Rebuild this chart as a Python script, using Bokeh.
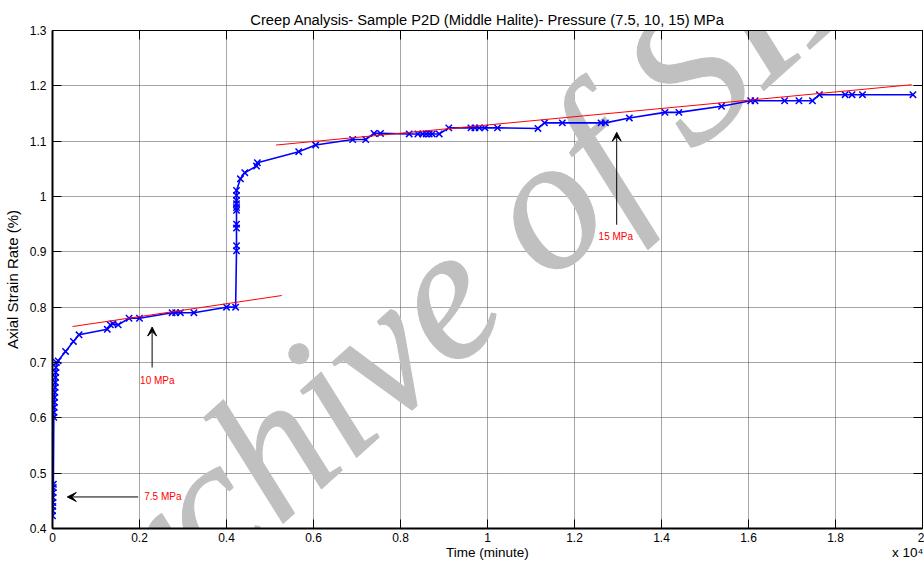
from bokeh.plotting import figure
from bokeh.models import Range1d, LinearAxis, FixedTicker, Arrow, VeeHead, ColumnDataSource, CustomJSTickFormatter
from bokeh.core.properties import value
from bokeh.embed import file_html
from bokeh.resources import INLINE

# ---- data (time in units of 10^4 minutes, axial strain in %) ----
time_e4 = [
    0.000, 0.0003, 0.0006, 0.0009, 0.0012, 0.0015, 0.0018, 0.002,
    0.003, 0.0035, 0.004, 0.0045, 0.005, 0.0055, 0.006, 0.0065, 0.007, 0.0075, 0.008, 0.009,
    0.013, 0.030, 0.048, 0.061, 0.126, 0.133, 0.139, 0.151, 0.176, 0.200,
    0.275, 0.283, 0.294, 0.325, 0.400, 0.421,
    0.423, 0.423, 0.423, 0.423, 0.423, 0.423, 0.423, 0.423, 0.423, 0.423,
    0.432, 0.442, 0.469, 0.471, 0.566, 0.605, 0.690, 0.720, 0.739, 0.754,
    0.820, 0.840, 0.851, 0.859, 0.866, 0.873, 0.889, 0.911, 0.962, 0.971,
    0.981, 0.994, 1.023, 1.116, 1.131, 1.172, 1.261, 1.271, 1.326, 1.408,
    1.440, 1.538, 1.605, 1.615, 1.683, 1.716, 1.747, 1.763, 1.822, 1.838,
    1.862, 1.978,
]
strain = [
    0.423, 0.432, 0.440, 0.447, 0.456, 0.465, 0.474, 0.480,
    0.601, 0.610, 0.619, 0.628, 0.637, 0.646, 0.655, 0.664, 0.673, 0.682, 0.691, 0.700,
    0.703, 0.720, 0.738, 0.750, 0.760, 0.768, 0.770, 0.768, 0.780, 0.780,
    0.790, 0.790, 0.790, 0.790, 0.800, 0.800,
    0.902, 0.911, 0.943, 0.950, 0.975, 0.980, 0.987, 0.993, 1.002, 1.011,
    1.032, 1.043, 1.055, 1.061, 1.081, 1.093, 1.103, 1.103, 1.114, 1.114,
    1.113, 1.113, 1.113, 1.113, 1.113, 1.113, 1.113, 1.124, 1.124, 1.124,
    1.124, 1.124, 1.124, 1.123, 1.133, 1.133, 1.133, 1.133, 1.142, 1.152,
    1.152, 1.163, 1.173, 1.173, 1.173, 1.173, 1.173, 1.184, 1.184, 1.184,
    1.184, 1.184,
]

fit10_x = [0.046, 0.527]
fit10_y = [0.765, 0.821]
fit15_x = [0.514, 1.975]
fit15_y = [1.093, 1.202]

x_ticks = [0, 0.2, 0.4, 0.6, 0.8, 1, 1.2, 1.4, 1.6, 1.8, 2]
x_tick_labels = ["0", "0.2", "0.4", "0.6", "0.8", "1", "1.2", "1.4", "1.6", "1.8", "2"]
y_ticks = [0.4, 0.5, 0.6, 0.7, 0.8, 0.9, 1, 1.1, 1.2, 1.3]
y_tick_labels = ["0.4", "0.5", "0.6", "0.7", "0.8", "0.9", "1", "1.1", "1.2", "1.3"]

# x-axis title row: axis name in the middle, exponent at the right end
x_title_pos = [1.0, 1.966]
x_title_text = ["Time (minute)", "x 10\u2074"]

ann_text = ["7.5 MPa", "10 MPa", "15 MPa"]
ann_text_x = [0.211, 0.241, 1.295]
ann_text_y = [0.457, 0.667, 0.927]
ann_align = ["left", "center", "center"]
arrow_x_start = [0.197, 0.229, 1.297]
arrow_y_start = [0.457, 0.691, 0.949]
arrow_x_end = [0.034, 0.229, 1.297]
arrow_y_end = [0.457, 0.764, 1.116]

watermark_text = ["Archive of SID"]
watermark_x = [0.922]
watermark_y = [0.842]

FONT = "Liberation Sans"

p = figure(width=924, height=565, output_backend="svg", toolbar_location=None,
           x_range=Range1d(0, 2), y_range=Range1d(0.4, 1.3),
           min_border_left=51, min_border_right=2, min_border_top=30, min_border_bottom=37)
p.background_fill_color = "white"
p.border_fill_color = "white"
p.outline_line_color = "black"
p.outline_line_width = 1

p.title.text = "Creep Analysis- Sample P2D (Middle Halite)- Pressure (7.5, 10, 15) MPa"
p.title.align = "center"
p.title.text_font = FONT
p.title.text_font_size = "14.7px"
p.title.text_font_style = "normal"
p.title.text_color = "black"
p.title.standoff = 6

fmt_code = "const i = ticks_v.findIndex(t => Math.abs(t - tick) < 1e-9); return i >= 0 ? labels_v[i] : String(tick);"
for ax, ticks, labels in ((p.xaxis[0], x_ticks, x_tick_labels), (p.yaxis[0], y_ticks, y_tick_labels)):
    ax.ticker = FixedTicker(ticks=ticks)
    ax.formatter = CustomJSTickFormatter(args=dict(ticks_v=ticks, labels_v=labels), code=fmt_code)
    ax.major_tick_in = 9
    ax.major_tick_out = 0
    ax.minor_tick_line_color = None
    ax.axis_line_width = 2
    ax.axis_line_color = "black"
    ax.major_label_text_font = FONT
    ax.major_label_text_font_size = "12px"
    ax.major_label_text_color = "black"
    ax.axis_label_text_font = FONT
    ax.axis_label_text_font_style = "normal"
    ax.axis_label_text_color = "black"

p.yaxis.axis_label = "Axial Strain Rate (%)"
p.yaxis.axis_label_text_font_size = "15px"
p.xaxis.major_label_standoff = 4
p.yaxis.major_label_standoff = 6
p.yaxis.axis_label_standoff = 6

# second row below the x axis carrying the axis name and the x 10^4 exponent
x_title_axis = LinearAxis(ticker=FixedTicker(ticks=x_title_pos),
                          formatter=CustomJSTickFormatter(args=dict(ticks_v=x_title_pos, labels_v=x_title_text),
                                                          code=fmt_code),
                          major_tick_in=0, major_tick_out=0, minor_tick_line_color=None,
                          major_tick_line_color=None, axis_line_color=None,
                          major_label_standoff=0, major_label_text_font=FONT,
                          major_label_text_font_size="13.5px", major_label_text_color="black")
p.add_layout(x_title_axis, "below")

for loc, ticks in (("above", x_ticks), ("right", y_ticks)):
    ax = LinearAxis(ticker=FixedTicker(ticks=ticks), major_label_text_font_size="0px",
                    major_label_standoff=0, major_tick_in=9, major_tick_out=0,
                    minor_tick_line_color=None, axis_line_color="black", axis_line_width=1)
    p.add_layout(ax, loc)

p.xgrid.ticker = FixedTicker(ticks=x_ticks)
p.ygrid.ticker = FixedTicker(ticks=y_ticks)
p.grid.grid_line_color = "#4d4d4d"
p.grid.grid_line_dash = "1 1"
p.grid.grid_line_width = 1

# watermark (drawn first, under the data)
wm = p.text(x=watermark_x, y=watermark_y, text=watermark_text, angle=42, angle_units="deg",
            text_font=value("Liberation Serif"), text_font_size="190px",
            text_font_style="italic", text_color="#c0c0c0",
            text_align="center", text_baseline="middle")
try:
    wm.glyph.text_outline_color = "#c0c0c0"
except Exception:
    pass

src = ColumnDataSource(dict(x=time_e4, y=strain))
p.line("x", "y", source=src, line_color="#0000ff", line_width=1.6)
p.scatter("x", "y", source=src, marker="x", size=9, line_color="#0000ff", line_width=1.5)

p.line(fit10_x, fit10_y, line_color="#ff0000", line_width=1)
p.line(fit15_x, fit15_y, line_color="#ff0000", line_width=1)

ann_src = ColumnDataSource(dict(x=ann_text_x, y=ann_text_y, t=ann_text, a=ann_align))
p.text(x="x", y="y", text="t", source=ann_src, text_font=value(FONT), text_font_size="10px",
       text_color="#ff0000", text_align="a", text_baseline="middle")

for xs, ys, xe, ye in zip(arrow_x_start, arrow_y_start, arrow_x_end, arrow_y_end):
    p.add_layout(Arrow(x_start=xs, y_start=ys, x_end=xe, y_end=ye, line_color="black", line_width=1,
                       end=VeeHead(size=9, fill_color="black", line_color="black", line_width=1)))

open("out.html", "w").write(file_html(p, INLINE))
